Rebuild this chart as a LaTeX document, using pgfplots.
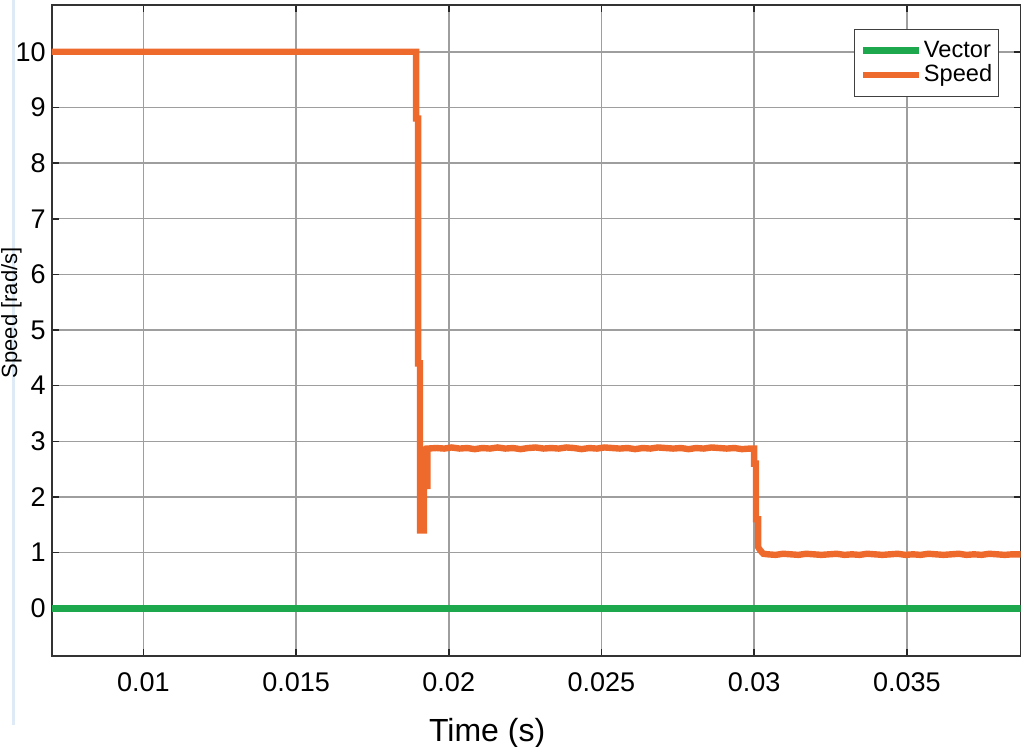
\documentclass[border=0pt]{standalone}
\usepackage{fontspec}
\setmainfont{Liberation Sans}
\usepackage{pgfplots}
\pgfplotsset{compat=1.18}
\definecolor{vecgreen}{RGB}{30,168,78}
\definecolor{spdorange}{RGB}{238,106,44}
\definecolor{scanblue}{RGB}{222,234,246}

\begin{document}
\begin{tikzpicture}
\path[use as bounding box] (-25.85pt,-45pt) rectangle (486.15pt,328pt);
% faint vertical strip at the left of the scan
\draw[scanblue, line width=1.5pt] (-19.1pt,-34.5pt) -- (-19.1pt,328pt);
\begin{axis}[
    scale only axis, width=484.4pt, height=325.5pt,
    xmin=0.0070, xmax=0.03872, ymin=-0.857, ymax=10.84,
    xtick={0.01,0.015,0.02,0.025,0.03,0.035},
    xticklabels={0.01,0.015,0.02,0.025,0.03,0.035},
    scaled x ticks=false,
    ytick={0,1,...,10},
    grid=major, grid style={black!38, line width=0.75pt},
    axis line style={black!80, line width=0.9pt},
    tick align=inside, tick pos=both, major tick length=3.5pt,
    tick style={black!85, line width=0.8pt},
    /pgf/number format/assume math mode=true,
    tick label style={font=\fontsize{13.5}{15}\selectfont},
    xticklabel style={anchor=base, yshift=-17.5pt},
    yticklabel style={xshift=0.5pt},
    xlabel={Time (s)},
    xlabel style={font=\fontsize{16}{19}\selectfont, at={(axis description cs:0.4495,-0.1306)}, anchor=base},
    ylabel={Speed [rad/s]},
    ylabel style={font=\fontsize{11}{13}\selectfont, at={(axis description cs:-0.0305,0.527)}, anchor=south, inner sep=0pt},
    legend style={at={(axis description cs:1,1)}, anchor=north east, xshift=-10.75pt, yshift=-12pt,
        draw=black!75, line width=0.6pt, font=\fontsize{11.8}{13}\selectfont,
        inner xsep=2.5pt, inner ysep=5pt, row sep=1.2pt,
        cells={anchor=west}, nodes={inner sep=0.6pt}},
    legend image code/.code={\draw[#1] (0pt,0pt) -- (28pt,0pt);},
]
\addplot[color=vecgreen, line width=3.6pt] coordinates {
    (0.0070,0) (0.03872,0)
};
\addplot[color=spdorange, line width=3.2pt, line join=miter] coordinates {
    (0.0070,10) (0.018930,10) (0.018930,8.8) (0.018995,8.8) (0.018995,4.4)
    (0.019060,4.4) (0.019060,1.4) (0.019190,1.4) (0.019190,2.85) (0.019220,2.85)
    (0.019220,2.2) (0.019300,2.2) (0.019300,2.87)
    (0.01960,2.88) (0.01985,2.87) (0.02010,2.89) (0.02035,2.87) (0.02060,2.88)
    (0.02085,2.86) (0.02110,2.88) (0.02135,2.87) (0.02160,2.89) (0.02185,2.87)
    (0.02210,2.88) (0.02235,2.86) (0.02260,2.88) (0.02285,2.89) (0.02310,2.87)
    (0.02335,2.88) (0.02360,2.87) (0.02385,2.89) (0.02410,2.88) (0.02435,2.86)
    (0.02460,2.88) (0.02485,2.87) (0.02510,2.89) (0.02535,2.88) (0.02560,2.87)
    (0.02585,2.88) (0.02610,2.86) (0.02635,2.88) (0.02660,2.87) (0.02685,2.89)
    (0.02710,2.88) (0.02735,2.87) (0.02760,2.88) (0.02785,2.86) (0.02810,2.88)
    (0.02835,2.87) (0.02860,2.89) (0.02885,2.88) (0.02910,2.87) (0.02935,2.88)
    (0.02960,2.86) (0.02985,2.87) (0.03000,2.87)
    (0.03000,2.60) (0.03006,2.60) (0.03006,1.60) (0.03013,1.60) (0.03013,1.10)
    (0.03020,1.04) (0.03030,0.98) (0.03045,0.97)
    (0.03070,0.96) (0.03095,0.98) (0.03120,0.97) (0.03145,0.96) (0.03170,0.98)
    (0.03195,0.97) (0.03220,0.96) (0.03245,0.97) (0.03270,0.98) (0.03295,0.96)
    (0.03320,0.97) (0.03345,0.96) (0.03370,0.98) (0.03395,0.97) (0.03420,0.96)
    (0.03445,0.97) (0.03470,0.98) (0.03495,0.96) (0.03520,0.97) (0.03545,0.96)
    (0.03570,0.98) (0.03595,0.97) (0.03620,0.96) (0.03645,0.97) (0.03670,0.98)
    (0.03695,0.96) (0.03720,0.97) (0.03745,0.96) (0.03770,0.98) (0.03795,0.97)
    (0.03820,0.96) (0.03845,0.97) (0.03872,0.97)
};
\legend{Vector, Speed}
\end{axis}
\end{tikzpicture}
\end{document}
